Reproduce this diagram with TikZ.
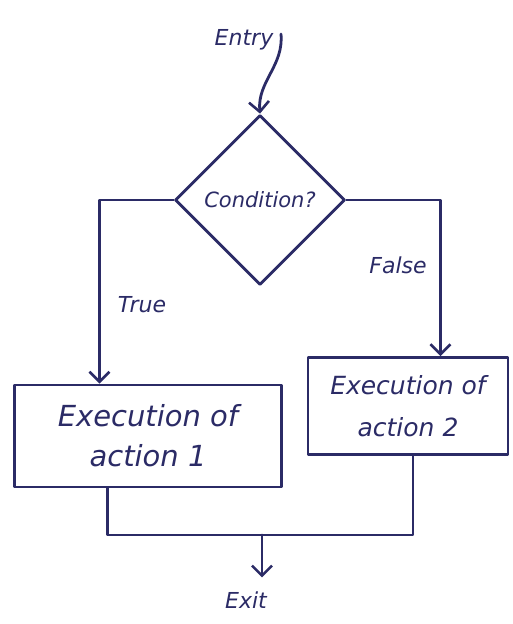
\documentclass[tikz,border=0pt]{standalone}
\usepackage{fontspec}
\setmainfont{DejaVu Sans}
\usetikzlibrary{arrows.meta,shapes.geometric,calc}
\definecolor{ink}{HTML}{2B2B66}
\tikzset{
  pen/.style={draw=ink, line width=2.8pt, line join=round, line cap=round},
  arr/.style={pen, -{Straight Barb[length=10pt,width=20pt,line width=2.6pt]}},
  lbl/.style={text=ink, font=\itshape\fontsize{22}{26}\selectfont, inner sep=0pt},
  actionbox/.style={pen, rectangle, text=ink, align=center, inner sep=0pt},
  decision/.style={pen, diamond, text=ink, inner sep=0pt,
    font=\itshape\fontsize{21}{24}\selectfont,
    minimum width=170pt, minimum height=170pt},
}
\begin{document}
\begin{tikzpicture}[x=1pt,y=-1pt]
  \useasboundingbox[fill=white] (0,0) rectangle (513,624);

  % nodes
  \node[lbl] (entry) at (244,40) {Entry};
  \coordinate (entrytail) at (281,34);
  \node[decision] (cond) at (260,200) {Condition?};
  \node[actionbox, minimum width=267pt, minimum height=102pt,
        font=\itshape\fontsize{29}{40}\selectfont] (act1) at (148,436)
    {Execution of\\action 1};
  \node[actionbox, minimum width=200pt, minimum height=97pt,
        font=\itshape\fontsize{25}{42}\selectfont] (act2) at (408,406)
    {Execution of\\action 2};
  \node[lbl] (exit) at (246,600) {Exit};
  \coordinate (merge) at (262,535);

  % branch labels
  \node[lbl] (truelbl) at (142,305) {True};
  \node[lbl] (falselbl) at (398,265) {False};

  % connectors
  \draw[arr] (entrytail) to[out=-85,in=95] (cond.north);
  \draw[arr] (cond.west) -| ($(act1.north west)!0.32!(act1.north east)$);
  \draw[arr] (cond.east) -| ($(act2.north west)!0.66!(act2.north east)$);
  \draw[pen] ($(act1.south west)!0.35!(act1.south east)$) |- (merge)
    -| ($(act2.south west)!0.525!(act2.south east)$);
  \draw[arr, shorten >=14pt] (merge) -- (merge |- exit.north);
\end{tikzpicture}
\end{document}
